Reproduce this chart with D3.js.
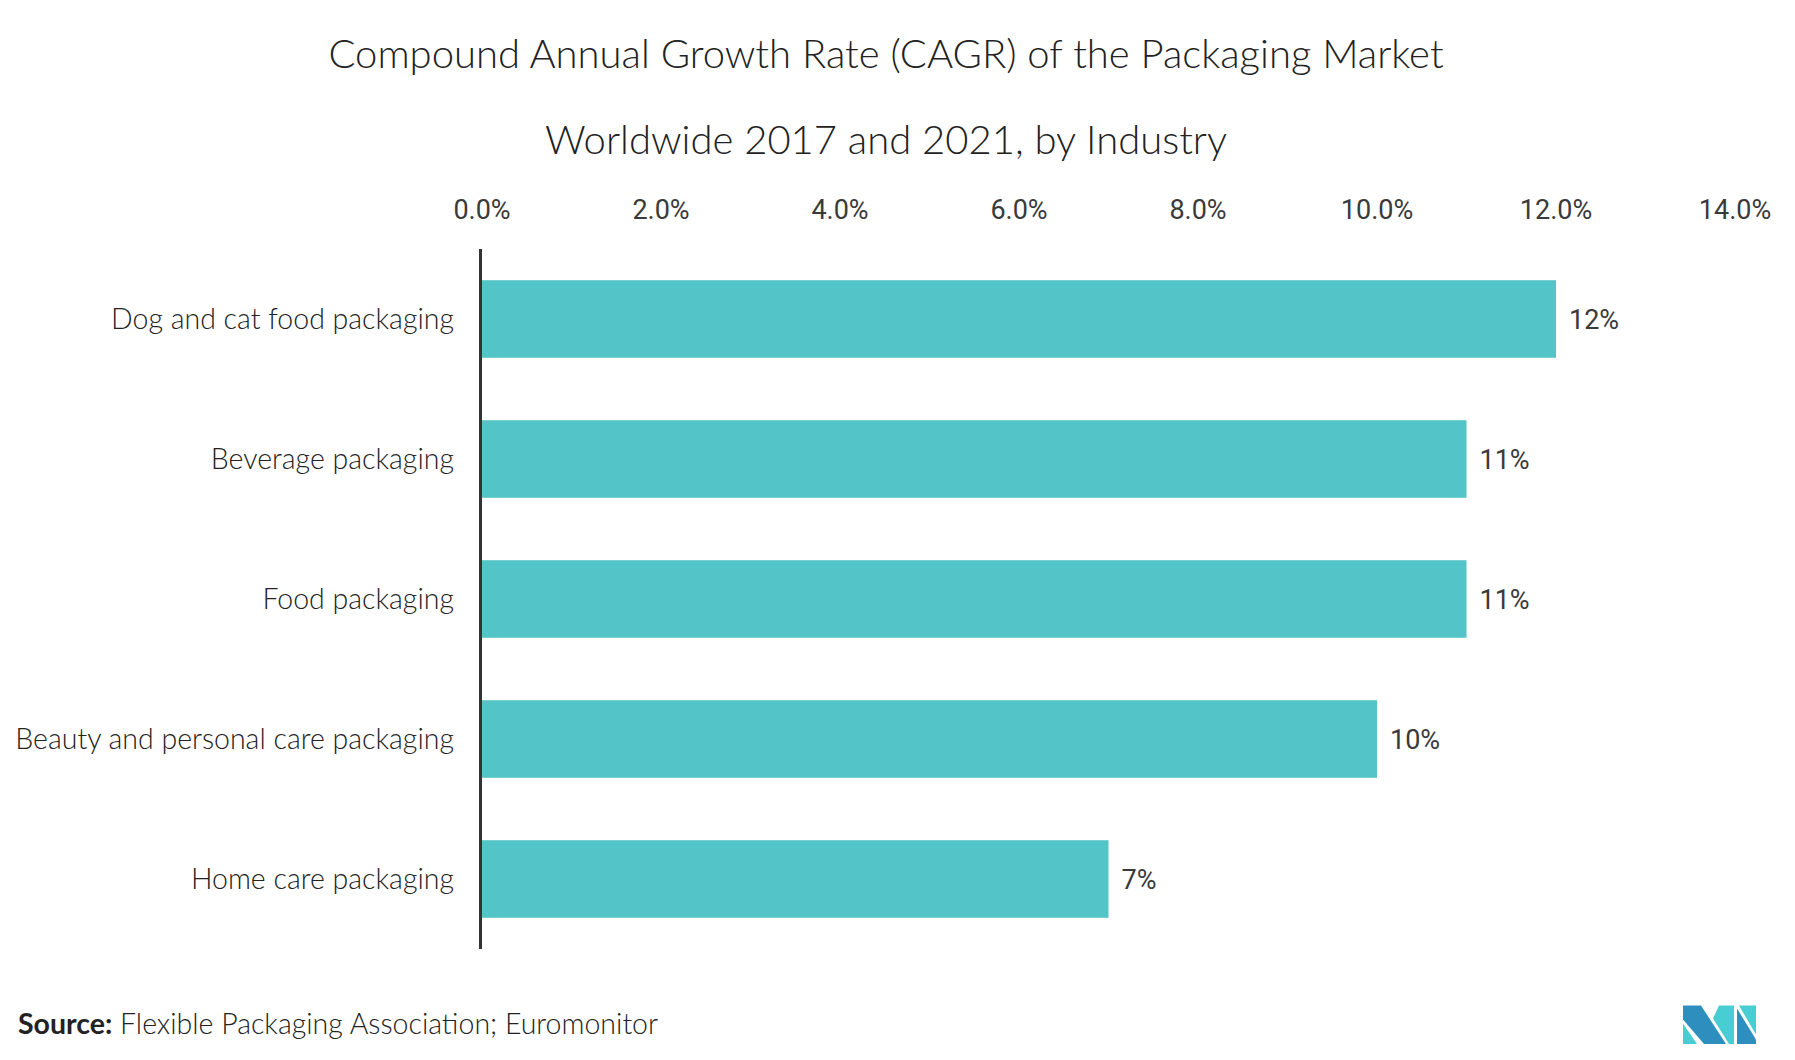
<!DOCTYPE html>
<html>
<head>
<meta charset="utf-8">
<script src="https://cdn.jsdelivr.net/npm/d3@7"></script>
<style>
    body { margin: 0; background: #fff; }
    svg { display: block; }
    .title { font-family: Lato, "Noto Sans", sans-serif; font-size: 40px; font-weight: 300; fill: #222; text-anchor: middle; }
    .tick-label, .value-label { font-family: "Liberation Sans Narrow", "Roboto", sans-serif; font-size: 27px; fill: #3a3a3a; }
    .cat-label { font-family: Lato, "Noto Sans", sans-serif; font-size: 28.5px; font-weight: 300; fill: #222; text-anchor: end; }
    .source { font-family: Lato, "Noto Sans", sans-serif; font-size: 28.5px; font-weight: 300; fill: #222; }
</style>
</head>
<body>
<svg width="1795" height="1060"></svg>
<script>
const categories = [
    "Dog and cat food packaging",
    "Beverage packaging",
    "Food packaging",
    "Beauty and personal care packaging",
    "Home care packaging"
];
const values = [12, 11, 11, 10, 7];
const tickValues = [0, 2, 4, 6, 8, 10, 12, 14];

const titleLines = [
    "Compound Annual Growth Rate (CAGR) of the Packaging Market",
    "Worldwide 2017 and 2021, by Industry"
];

const data = categories.map((c, i) => ({ name: c, value: values[i] }));

const svg = d3.select("svg");

const xScale = d3.scaleLinear()
    .domain([0, 14])
    .range([482, 1735]);

const yScale = d3.scaleBand()
    .domain(categories)
    .range([249, 949])
    .paddingInner(0.446)
    .paddingOuter(0.223);

svg.selectAll(".title")
    .data(titleLines)
    .enter().append("text")
    .attr("class", "title")
    .attr("x", 886)
    .attr("y", (d, i) => 68 + i * 86)
    .text((d) => d);

// ticks on top, no axis line
svg.selectAll(".tick-label")
    .data(tickValues)
    .enter().append("text")
    .attr("class", "tick-label")
    .attr("x", (d) => xScale(d))
    .attr("y", 219)
    .attr("text-anchor", "middle")
    .text((d) => d.toFixed(1) + "%");

svg.selectAll(".bar")
    .data(data)
    .enter().append("rect")
    .attr("class", "bar")
    .attr("x", xScale(0))
    .attr("y", (d) => yScale(d.name))
    .attr("width", (d) => xScale(d.value) - xScale(0))
    .attr("height", yScale.bandwidth())
    .style("fill", "#53c4c7");

svg.append("line")
    .attr("x1", xScale(0) - 1.5)
    .attr("x2", xScale(0) - 1.5)
    .attr("y1", yScale.range()[0])
    .attr("y2", yScale.range()[1])
    .style("stroke", "#333")
    .style("stroke-width", 3);

svg.selectAll(".cat-label")
    .data(data)
    .enter().append("text")
    .attr("class", "cat-label")
    .attr("x", 454)
    .attr("y", (d) => yScale(d.name) + yScale.bandwidth() / 2)
    .attr("dy", "0.35em")
    .text((d) => d.name);

svg.selectAll(".value-label")
    .data(data)
    .enter().append("text")
    .attr("class", "value-label")
    .attr("x", (d) => xScale(d.value) + 13)
    .attr("y", (d) => yScale(d.name) + yScale.bandwidth() / 2)
    .attr("dy", "0.36em")
    .text((d) => d.value + "%");

const source = svg.append("text")
    .attr("class", "source")
    .attr("x", 18)
    .attr("y", 1034);
source.append("tspan").style("font-weight", "bold").text("Source:");
source.append("tspan").text(" Flexible Packaging Association; Euromonitor");

// logo
const logoShapes = [
    { fill: "#2e8fbf", pts: [[0, 0], [18, 0], [43, 38.5], [21, 38.5], [0, 14]] },
    { fill: "#48cdd2", pts: [[0, 18], [0, 38.5], [14, 38.5]] },
    { fill: "#48cdd2", pts: [[36, 0], [51, 0], [51, 38.5], [46, 38.5], [30, 13]] },
    { fill: "#48cdd2", pts: [[56, 0], [73, 0], [73, 29]] },
    { fill: "#2e8fbf", pts: [[54, 3], [73, 34], [73, 38.5], [54, 38.5]] }
];
const logo = svg.append("g").attr("transform", "translate(1683,1005.5)");
logo.selectAll("polygon")
    .data(logoShapes)
    .enter().append("polygon")
    .attr("points", (d) => d.pts.map((p) => p.join(",")).join(" "))
    .style("fill", (d) => d.fill);
</script>
</body>
</html>
